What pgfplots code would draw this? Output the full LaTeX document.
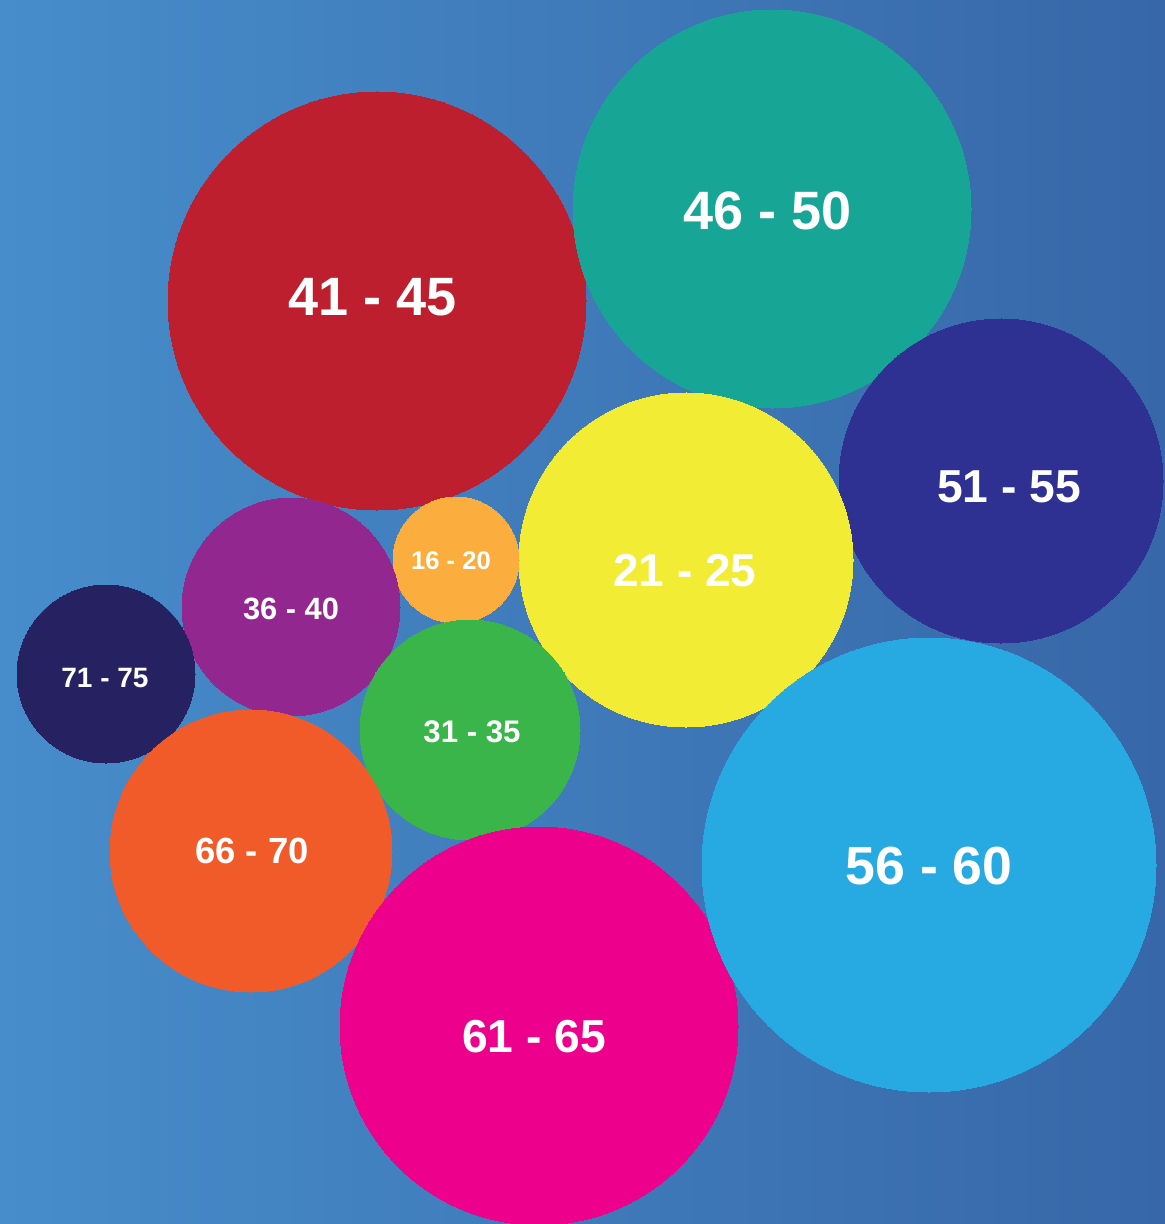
\documentclass[border=0pt]{standalone}
\usepackage{pgfplots}
\pgfplotsset{compat=1.18}
\usepackage{fontspec}
\setmainfont{Liberation Sans}

\definecolor{bgL}{HTML}{478DCB}
\definecolor{bgR}{HTML}{3767A8}
\definecolor{c4145}{HTML}{BD1F2E}
\definecolor{c4650}{HTML}{17A596}
\definecolor{c5155}{HTML}{2E3192}
\definecolor{c2125}{HTML}{F2EC34}
\definecolor{c1620}{HTML}{FBAD3E}
\definecolor{c3640}{HTML}{92278F}
\definecolor{c7175}{HTML}{262262}
\definecolor{c3135}{HTML}{39B54A}
\definecolor{c6670}{HTML}{F15A29}
\definecolor{c6165}{HTML}{EC008C}
\definecolor{c5660}{HTML}{27AAE1}

% one bubble: {colour}{radius pt}{x}{y}
\newcommand{\bubble}[4]{%
  \addplot[only marks, mark=*, mark size=#2pt, color=#1,
    mark options={draw=#1, fill=#1, line width=0pt}] coordinates {(#3,#4)};}
% one label: {size pt}{x}{y}{text}
\newcommand{\bublabel}[4]{%
  \addplot[only marks, mark=none, nodes near coords={#4},
    nodes near coords style={anchor=center, inner sep=0pt, text=white,
      font=\fontsize{#1}{#1}\selectfont\bfseries}] coordinates {(#2,#3)};}

\begin{document}
\begin{tikzpicture}
  \shade[left color=bgL, right color=bgR] (0,0) rectangle (582.5pt,612pt);
  % x, y in pixels of the 1165x1224 frame (y downwards), 0.5pt per px
  \begin{axis}[
    at={(0,0)}, anchor=south west,
    scale only axis,
    width=582.5pt, height=612pt,
    xmin=0, xmax=1165, ymin=0, ymax=1224,
    y dir=reverse,
    hide axis,
    clip=false,
  ]
    \bubble{c4145}{104.5}{377}{301}
    \bubble{c4650}{99.5}{772}{209}
    \bubble{c5155}{81}{1001}{481}
    \bubble{c2125}{83.5}{686}{560}
    \bubble{c1620}{31.5}{456}{560}
    \bubble{c3640}{54.5}{291}{607}
    \bubble{c7175}{44.5}{106}{674}
    \bubble{c3135}{55}{470}{730}
    \bubble{c6670}{70.5}{251}{851}
    \bubble{c6165}{99.5}{539}{1026}
    \bubble{c5660}{113.5}{929}{865}

    \bublabel{27}{373}{297}{41 - 45}
    \bublabel{27}{768}{211}{46 - 50}
    \bublabel{23.1}{1009}{487}{51 - 55}
    \bublabel{23}{685}{571}{21 - 25}
    \bublabel{12.8}{451}{561}{16 - 20}
    \bublabel{15.4}{291}{609}{36 - 40}
    \bublabel{14}{105}{678}{71 - 75}
    \bublabel{15.6}{472}{732}{31 - 35}
    \bublabel{18.2}{252}{851}{66 - 70}
    \bublabel{23.1}{534}{1037}{61 - 65}
    \bublabel{26.8}{929}{866}{56 - 60}
  \end{axis}
  \pgfresetboundingbox
  \useasboundingbox (0,0) rectangle (582.5pt,612pt);
\end{tikzpicture}
\end{document}
